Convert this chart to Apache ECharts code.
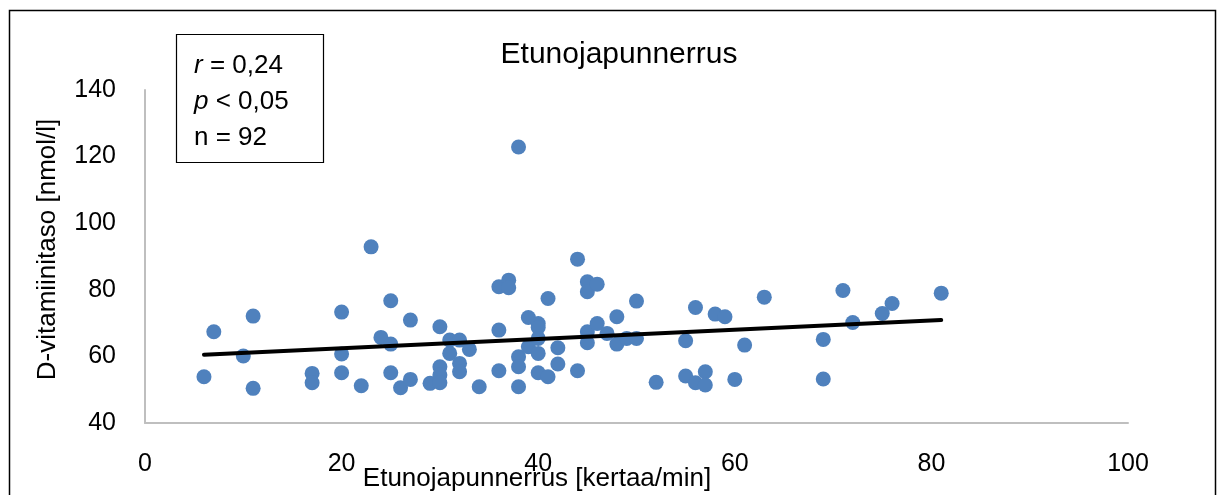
<!DOCTYPE html>
<html><head><meta charset="utf-8">
<script src="https://cdn.jsdelivr.net/npm/echarts@6/dist/echarts.min.js"></script>
<style>html,body{margin:0;padding:0;background:#fff}#c{width:1225px;height:495px}</style>
</head><body><div id="c"></div>
<script>
const titleText = 'Etunojapunnerrus';
const xName = 'Etunojapunnerrus [kertaa/min]';
const yName = 'D-vitamiinitaso [nmol/l]';
const xTicks = [0, 20, 40, 60, 80, 100];
const yTicks = [40, 60, 80, 100, 120, 140];
const xVals = [6,7,10,11,11,17,17,20,20,20,22,23,24,25,25,25,26,27,27,29,30,30,30,30,31,31,32,32,32,33,34,36,36,36,37,37,38,38,38,38,39,39,40,40,40,40,40,41,41,42,42,44,44,45,45,45,45,46,46,47,48,48,49,50,50,52,55,55,56,56,57,57,58,59,60,61,63,69,69,71,72,75,76,81];
const yVals = [53.9,67.4,60.1,72.1,50.4,54.9,52.1,73.3,60.7,55.1,51.2,92.9,65.7,76.7,63.7,55.1,50.6,70.9,53.1,51.9,68.9,56.9,54.4,52.1,64.9,60.9,64.9,57.9,55.4,62.1,50.9,80.9,67.9,55.7,82.9,80.6,122.9,59.9,56.9,50.9,71.7,62.9,69.9,68.7,65.4,60.9,55.1,77.4,53.9,62.6,57.7,89.2,55.7,82.4,79.4,67.4,64.1,81.7,69.9,66.9,71.9,63.7,65.4,76.6,65.4,52.2,64.7,54.1,74.7,52.1,55.4,51.4,72.7,71.9,53.1,63.4,77.8,65.1,53.2,79.8,70.2,72.9,75.9,79.0];
const trendX = [6, 81];
const trendY = [60.5, 70.9];
const statsLines = [['r', ' = 0,24'], ['p', ' < 0,05'], ['', 'n = 92']];

const FONT = '"Liberation Sans", Arial, sans-serif';
const chart = echarts.init(document.getElementById('c'), null, {renderer: 'canvas'});
const statsText = statsLines.map(l => (l[0] ? '{i|' + l[0] + '}' : '') + '{n|' + l[1] + '}').join('\n');
chart.setOption({
  animation: false,
  backgroundColor: '#fff',
  title: {text: titleText, left: 614, top: 35, textAlign: 'center',
    textStyle: {fontFamily: FONT, fontSize: 30, fontWeight: 'normal', color: '#000'}},
  grid: {left: 145, right: 97, top: 90, bottom: 72},
  xAxis: {type: 'value', min: xTicks[0], max: xTicks[xTicks.length-1], interval: 20,
    axisLine: {show: true, lineStyle: {color: '#bfbfbf', width: 2}},
    axisTick: {show: false}, splitLine: {show: false},
    axisLabel: {margin: 29, fontFamily: FONT, fontSize: 25, color: '#000'}},
  yAxis: {type: 'value', min: yTicks[0], max: yTicks[yTicks.length-1], interval: 20,
    name: yName, nameLocation: 'middle', nameGap: 84, nameRotate: 90,
    nameTextStyle: {fontFamily: FONT, fontSize: 26, color: '#000', padding: [0, 0, 0, 14]},
    axisLine: {show: true, lineStyle: {color: '#bfbfbf', width: 2}},
    axisTick: {show: false}, splitLine: {show: false},
    axisLabel: {margin: 29, fontFamily: FONT, fontSize: 25, color: '#000'}},
  series: [
    {type: 'scatter', data: xVals.map((x, i) => [x, yVals[i]]), symbolSize: 15,
      itemStyle: {color: '#4f81bd', opacity: 1}, z: 2},
    {type: 'line', data: trendX.map((x, i) => [x, trendY[i]]), symbol: 'none',
      lineStyle: {color: '#000', width: 4, cap: 'round'}, z: 3}
  ],
  graphic: [
    {type: 'rect', shape: {x: 9.5, y: 10.5, width: 1206, height: 500},
      style: {fill: 'none', stroke: '#000', lineWidth: 1.5}, silent: true},
    {type: 'rect', shape: {x: 176.5, y: 34.5, width: 147, height: 128},
      style: {fill: '#fff', stroke: '#000', lineWidth: 1.2}, z: 10},
    {type: 'text', left: 194, top: 48, z: 11,
      style: {text: statsText, lineHeight: 36,
        rich: {i: {fontFamily: FONT, fontSize: 26, fontStyle: 'italic', color: '#000', lineHeight: 36},
               n: {fontFamily: FONT, fontSize: 26, color: '#000', lineHeight: 36}}}},
    {type: 'text', x: 537, y: 479, z: 11,
      style: {text: xName, fontFamily: FONT, fontSize: 26, fill: '#000', align: 'center', verticalAlign: 'middle'}}
  ]
});
</script></body></html>
